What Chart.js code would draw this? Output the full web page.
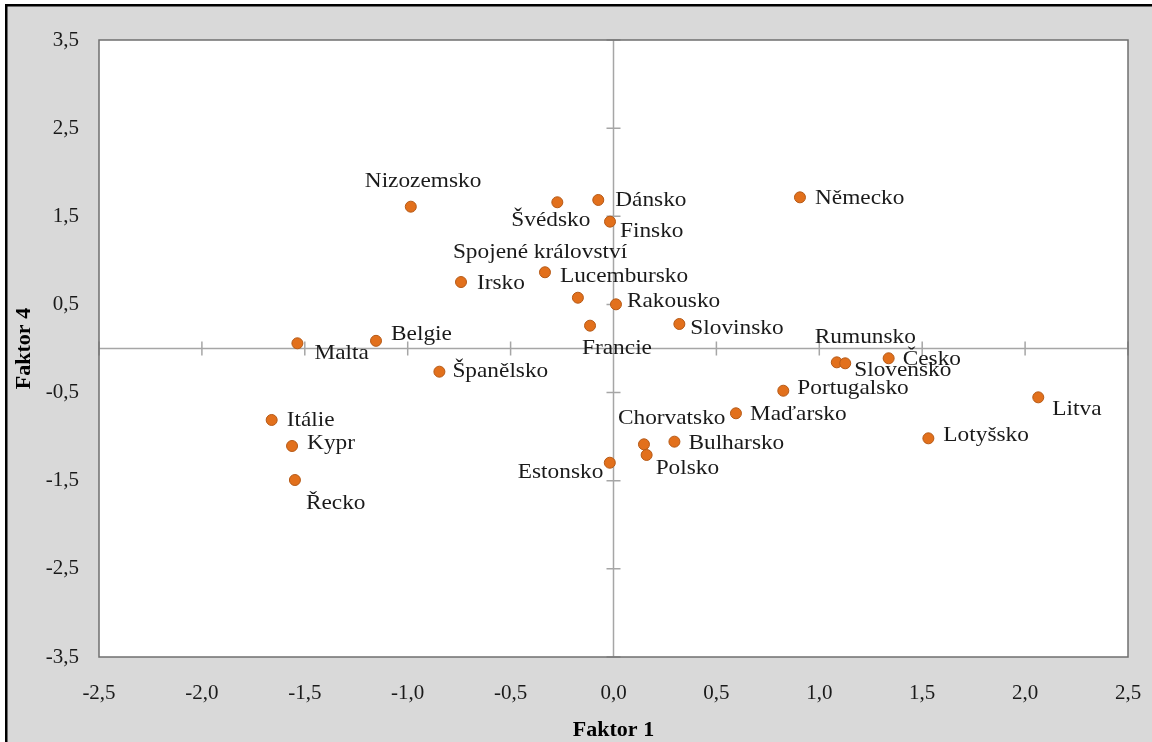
<!DOCTYPE html>
<html>
<head>
<meta charset="utf-8">
<script src="https://cdn.jsdelivr.net/npm/chart.js@4.4.1/dist/chart.umd.min.js"></script>
<style>
  html, body { margin: 0; padding: 0; background: #ffffff; }
  #c { display: block; }
</style>
</head>
<body>
<canvas id="c" width="1152" height="742"></canvas>
<script>
// ---- data ----
const countries = ["Nizozemsko","Švédsko","Dánsko","Finsko","Německo","Irsko","Lucembursko","Spojené království","Rakousko","Francie","Slovinsko","Belgie","Malta","Španělsko","Itálie","Kypr","Řecko","Rumunsko","Slovensko","Česko","Portugalsko","Maďarsko","Litva","Lotyšsko","Chorvatsko","Bulharsko","Polsko","Estonsko"];
const factor1 = [-0.985,-0.273,-0.074,-0.017,0.906,-0.741,-0.333,-0.173,0.012,-0.114,0.320,-1.154,-1.536,-0.846,-1.661,-1.562,-1.548,1.085,1.126,1.337,0.825,0.595,2.064,1.530,0.148,0.296,0.161,-0.018];
const factor4 = [1.609,1.659,1.685,1.439,1.715,0.754,0.865,0.576,0.501,0.259,0.278,0.087,0.059,-0.263,-0.811,-1.106,-1.492,-0.157,-0.168,-0.111,-0.479,-0.735,-0.554,-1.019,-1.087,-1.057,-1.208,-1.296];
const xTicks = [-2.5,-2.0,-1.5,-1.0,-0.5,0.0,0.5,1.0,1.5,2.0,2.5];
const yTicks = [-3.5,-2.5,-1.5,-0.5,0.5,1.5,2.5,3.5];
const xTitle = "Faktor 1";
const yTitle = "Faktor 4";

// ---- label placement (pixels, relative to point: left edge, vertical middle) ----
const labelDx = [-46,-46,17,10,15,16,15,-125,11,-8,11,15,17,13,15,15,11,-22,9,14,14,14,14,15,-26,14,9,-92];
const labelDy = [-25,18,0,10,1,1,4,-46,-3,23,4,-7,10,0,0,-3,23,-25,7,1,-3,1,12,-3,-26,2,13,9];

const SERIF = '"Liberation Serif", "Times New Roman", "DejaVu Serif", serif';
const fmt = v => Number(v).toFixed(1).replace('.', ',');

const decorPlugin = {
  id: 'decor',
  beforeDraw(chart) {
    const ctx = chart.ctx, W = chart.width, H = chart.height, a = chart.chartArea;
    ctx.save();
    ctx.fillStyle = '#ffffff';
    ctx.fillRect(0, 0, W, H);
    ctx.fillStyle = '#d9d9d9';
    ctx.fillRect(6, 5, W - 6, H - 5);
    ctx.fillStyle = '#000000';
    ctx.fillRect(5, 4, W - 5, 2.5);
    ctx.fillRect(5, 4, 2.5, H - 4);
    ctx.fillStyle = '#ffffff';
    ctx.fillRect(a.left, a.top, a.right - a.left, a.bottom - a.top);
    ctx.restore();
  },
  beforeDatasetsDraw(chart) {
    const ctx = chart.ctx, a = chart.chartArea;
    const xs = chart.scales.x, ys = chart.scales.y;
    const x0 = xs.getPixelForValue(0), y0 = ys.getPixelForValue(0);
    ctx.save();
    ctx.strokeStyle = '#a6a6a6';
    ctx.lineWidth = 1.5;
    ctx.beginPath();
    ctx.moveTo(a.left, y0); ctx.lineTo(a.right, y0);
    ctx.moveTo(x0, a.top); ctx.lineTo(x0, a.bottom);
    xTicks.forEach(v => {
      const px = xs.getPixelForValue(v);
      ctx.moveTo(px, y0 - 7); ctx.lineTo(px, y0 + 7);
    });
    yTicks.forEach(v => {
      const py = ys.getPixelForValue(v);
      ctx.moveTo(x0 - 7, py); ctx.lineTo(x0 + 7, py);
    });
    ctx.stroke();
    // plot border
    ctx.strokeStyle = '#6f6f6f';
    ctx.lineWidth = 1.5;
    ctx.strokeRect(a.left, a.top, a.right - a.left, a.bottom - a.top);
    ctx.restore();
  },
  afterDatasetsDraw(chart) {
    const ctx = chart.ctx;
    const meta = chart.getDatasetMeta(0);
    ctx.save();
    ctx.fillStyle = '#1a1a1a';
    ctx.font = '22px ' + SERIF;
    ctx.textAlign = 'left';
    ctx.textBaseline = 'middle';
    meta.data.forEach((pt, i) => {
      ctx.save();
      ctx.translate(pt.x + labelDx[i], pt.y + labelDy[i]);
      ctx.scale(1.06, 1);
      ctx.fillText(countries[i], 0, 0);
      ctx.restore();
    });
    // axis titles
    const a = chart.chartArea;
    ctx.font = 'bold 22px ' + SERIF;
    ctx.textAlign = 'center';
    ctx.fillStyle = '#000000';
    ctx.fillText(xTitle, (a.left + a.right) / 2, 730);
    ctx.save();
    ctx.translate(24, (a.top + a.bottom) / 2);
    ctx.rotate(-Math.PI / 2);
    ctx.fillText(yTitle, 0, 0);
    ctx.restore();
    ctx.restore();
  }
};

const tickFont = { family: SERIF, size: 21 };

new Chart(document.getElementById('c'), {
  type: 'scatter',
  data: {
    datasets: [{
      data: countries.map((c, i) => ({ x: factor1[i], y: factor4[i] })),
      pointRadius: 5.5,
      pointHoverRadius: 5.5,
      backgroundColor: '#e2701c',
      borderColor: '#b65a17',
      borderWidth: 1
    }]
  },
  options: {
    responsive: false,
    animation: false,
    devicePixelRatio: 1,
    layout: { padding: { top: 40, right: 24, left: 0, bottom: 0 } },
    plugins: { legend: { display: false }, tooltip: { enabled: false } },
    events: [],
    scales: {
      x: {
        type: 'linear', position: 'bottom', min: -2.5, max: 2.5,
        afterBuildTicks: s => { s.ticks = xTicks.map(v => ({ value: v })); },
        afterFit: s => { s.height = 85; s.paddingLeft = 0; s.paddingRight = 0; },
        grid: { display: false, drawTicks: false },
        border: { display: false },
        ticks: { padding: 24, font: tickFont, color: '#1a1a1a', maxRotation: 0, autoSkip: false, callback: v => fmt(v) }
      },
      y: {
        type: 'linear', position: 'left', min: -3.5, max: 3.5,
        afterBuildTicks: s => { s.ticks = yTicks.map(v => ({ value: v })); },
        afterFit: s => { s.width = 99; s.paddingTop = 0; s.paddingBottom = 0; },
        grid: { display: false, drawTicks: false },
        border: { display: false },
        ticks: { padding: 20, font: tickFont, color: '#1a1a1a', autoSkip: false, callback: v => fmt(v) }
      }
    }
  },
  plugins: [decorPlugin]
});
</script>
</body>
</html>
